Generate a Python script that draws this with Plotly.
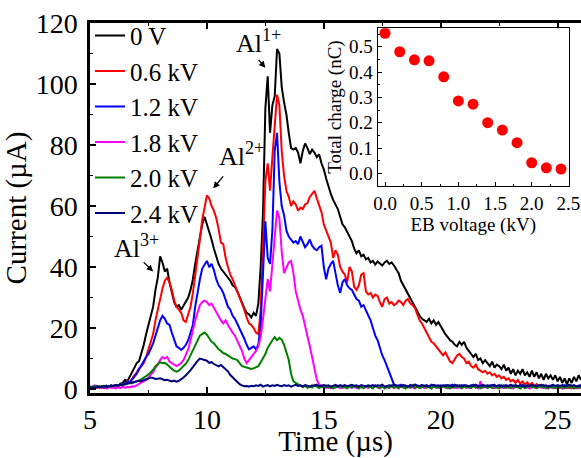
import plotly.graph_objects as go

# sample times (µs), 0.1 µs step from 5.0 to 26.0
time_us = [round(5.0 + 0.1 * i, 1) for i in range(211)]

labels = ["0 V", "0.6 kV", "1.2 kV", "1.8 kV", "2.0 kV", "2.4 kV"]
colors = ["#000000", "#ff0000", "#0000ff", "#ff00ff", "#008000", "#000080"]

cur_0V = [
    0.5, 0.8, 0.3, 1.0, 0.6, 0.9, 0.4, 1.1, 0.7, 1.2,
    1.0, 1.3, 0.9, 1.8, 2.0, 3.0, 2.6, 4.2, 5.5, 7.0,
    8.5, 9.2, 11.5, 14.5, 18.0, 21.0, 23.5, 27.0, 32.5, 36.5,
    43.5, 41.5, 38.5, 39.5, 35.0, 31.5, 28.5, 27.0, 27.5, 26.0,
    27.5, 28.5, 30.0, 32.5, 36.0, 41.0, 45.5, 50.5, 54.0, 56.5,
    54.0, 52.0, 49.0, 46.0, 43.5, 41.0, 39.5, 38.5, 37.5, 36.5,
    35.5, 34.0, 33.5, 32.0, 30.0, 28.0, 26.5, 25.0, 24.5, 23.5,
    25.0, 24.0, 28.0, 40.0, 58.0, 92.0, 102.5, 84.0, 93.0, 96.0,
    111.5, 110.0, 99.0, 94.0, 90.0, 84.0, 79.0, 78.5, 79.0, 77.5,
    74.0, 78.0, 80.5, 79.0, 77.0, 78.5, 77.5, 76.0, 77.0, 74.0,
    72.0, 69.0, 66.0, 64.0, 62.0, 60.5, 59.0, 56.5, 54.0, 53.0,
    51.5, 50.0, 48.5, 46.0, 44.5, 45.5, 43.5, 44.0, 42.5, 43.0,
    41.5, 42.0, 40.8, 41.8, 41.0, 40.5, 41.5, 42.0, 41.0, 41.5,
    40.5, 39.0, 38.0, 35.5, 34.0, 32.5, 31.5, 29.5, 28.5, 27.0,
    25.5, 24.0, 23.0, 22.5, 22.0, 23.0, 21.5, 22.5, 21.0, 22.0,
    20.5, 19.0, 18.0, 17.0, 16.0, 15.5, 14.5, 14.0, 15.5, 14.5,
    15.5, 13.5, 12.5, 11.5, 10.5, 11.5, 9.5, 10.0, 8.5, 9.5,
    8.5, 7.5, 9.0, 7.0, 8.0, 7.5, 6.5, 8.0, 6.0, 7.0,
    5.0, 6.5, 4.5, 6.0, 5.0, 6.5, 4.5, 5.5, 4.0, 6.0,
    4.0, 5.5, 3.5, 5.0, 3.0, 5.0, 3.5, 4.5, 3.0, 4.5,
    2.5, 4.0, 2.0, 3.5, 1.5, 3.5, 2.0, 4.0, 2.5, 4.5,
    3.0,
]

cur_06kV = [
    0.3, 0.6, 0.2, 0.8, 0.4, 0.7, 0.3, 0.9, 0.5, 1.0,
    0.7, 1.2, 0.8, 1.5, 1.3, 2.0, 2.6, 2.3, 3.6, 4.5,
    5.5, 6.8, 7.5, 8.5, 10.5, 13.0, 15.0, 18.0, 22.5, 26.0,
    30.0, 33.0, 35.5, 36.5, 35.0, 32.5, 29.0, 27.0, 26.0, 25.0,
    22.5, 22.0, 24.5, 27.0, 31.5, 37.0, 42.0, 49.0, 55.5, 60.0,
    63.5, 62.5, 60.0, 58.5, 56.0, 52.5, 48.0, 47.5, 43.0, 40.0,
    37.5, 36.0, 34.0, 32.0, 30.5, 28.5, 26.0, 23.5, 21.5, 21.0,
    20.0, 18.5, 18.0, 26.0, 50.0, 68.0, 74.0, 65.0, 76.0, 85.0,
    96.5, 93.0, 78.0, 70.0, 65.0, 63.0, 60.0, 61.5, 60.5, 58.5,
    59.5, 59.0, 60.5, 61.0, 63.0, 64.0, 65.0, 62.5, 60.5, 58.0,
    54.0, 52.0, 49.5, 48.0, 43.0, 45.5, 44.0, 40.0, 38.5, 37.5,
    35.0, 40.0, 38.5, 33.5, 32.5, 34.0, 37.5, 38.0, 32.0, 31.0,
    31.5, 30.0, 31.0, 30.5, 28.5, 27.0, 29.5, 30.0, 28.0, 28.5,
    27.5, 28.0, 29.0, 28.5, 27.5, 29.0, 29.5, 28.0, 27.5, 26.5,
    24.5, 22.5, 21.5, 20.0, 18.5, 17.0, 15.5, 15.0, 14.0, 13.0,
    12.0, 11.0, 12.0, 10.5, 9.0, 8.5, 10.0, 11.0, 11.5, 10.5,
    10.0, 8.5, 9.0, 7.5, 7.0, 8.0, 6.5, 6.0, 5.5, 6.0,
    5.0, 5.5, 4.5, 5.0, 4.0, 4.5, 3.5, 4.0, 3.0, 3.5,
    2.5, 3.0, 2.0, 3.0, 1.8, 2.5, 1.5, 2.2, 1.2, 2.0,
    1.0, 1.6, 0.8, 1.4, 0.6, 0.9, 0.5, 0.8, 0.4, 0.7,
    0.3, 0.6, 0.2, 0.5, 0.3, 0.6, 0.2, 0.5, 0.3, 0.6,
    0.4,
]

cur_12kV = [
    0.4, 0.7, 0.3, 0.9, 0.5, 0.8, 0.4, 1.0, 0.6, 1.1,
    0.8, 1.3, 0.9, 1.6, 1.4, 2.0, 2.4, 2.2, 3.2, 4.0,
    5.0, 6.5, 8.0, 9.0, 10.5, 11.5, 13.0, 15.0, 17.5, 20.0,
    22.5, 24.0, 23.0, 21.5, 21.0, 18.5, 16.0, 14.0, 13.5, 12.8,
    13.5, 14.5, 16.0, 18.5, 21.0, 27.0, 32.0, 36.0, 39.5, 41.0,
    42.0, 40.0, 41.0, 39.0, 36.0, 34.0, 33.0, 31.5, 29.0, 27.0,
    26.0, 24.0, 23.0, 21.5, 19.5, 18.0, 16.5, 14.5, 13.0, 13.5,
    14.0, 13.0, 14.5, 21.0, 40.0, 55.0, 43.0, 41.0, 52.0, 78.0,
    84.0, 68.0, 60.0, 57.0, 52.0, 50.0, 49.0, 48.0, 48.5, 47.5,
    50.0, 48.5, 46.5, 47.5, 49.0, 47.0, 46.0, 45.5, 46.5, 47.0,
    40.0, 36.0, 39.5, 41.0, 42.0, 38.0, 34.0, 31.5, 35.0, 36.0,
    34.0, 33.0, 32.5, 31.0, 29.5, 29.0, 27.0, 27.5, 26.0, 24.0,
    22.5, 20.0, 17.5, 16.0, 13.5, 11.0, 9.5, 7.5, 5.5, 3.0,
    1.5, 1.2, 0.8, 1.4, 0.9, 1.1, 0.6, 1.3, 0.9, 1.5,
    0.8, 1.0, 1.3, 0.7, 1.2, 0.9, 1.4, 0.8, 1.1, 0.6,
    1.2, 0.9, 1.3, 0.8, 1.0, 1.4, 0.7, 1.1, 0.9, 1.3,
    0.8, 1.2, 0.6, 1.0, 1.4, 0.9, 1.1, 0.7, 1.3, 1.0,
    0.8, 1.2, 0.9, 1.4, 0.7, 1.0, 1.2, 0.8, 1.3, 0.9,
    1.1, 0.7, 1.2, 1.0, 0.8, 1.4, 0.9, 1.1, 0.6, 1.3,
    1.0, 0.8, 1.2, 0.9, 1.3, 0.7, 1.1, 1.0, 1.4, 0.8,
    1.2, 0.9, 1.0, 1.3, 0.7, 1.1, 0.9, 1.2, 0.8, 1.0,
    1.3,
]

cur_18kV = [
    1.0, 0.5, 1.2, 0.4, 0.9, 0.3, 0.8, 0.2, 0.7, 0.4,
    0.5, 0.2, 0.6, 0.3, 0.8, 0.4, 0.7, 0.5, 0.9, 0.8,
    1.2, 1.8, 2.2, 2.5, 3.0, 3.8, 4.5, 5.5, 7.0, 8.0,
    9.5, 10.5, 10.0, 10.5, 9.0, 8.5, 8.0, 7.5, 8.0, 8.5,
    9.5, 11.0, 13.0, 16.0, 19.5, 22.5, 25.0, 27.5, 28.5, 29.0,
    28.5, 27.5, 28.0, 26.5, 25.0, 24.0, 22.5, 21.5, 22.5, 21.0,
    19.5, 18.5, 17.5, 16.0, 14.5, 12.5, 10.0, 8.5, 9.5, 10.5,
    11.5, 12.5, 14.0, 17.0, 23.0, 29.0, 36.0, 32.0, 40.0, 50.0,
    58.5, 56.0, 45.0, 38.0, 40.0, 41.5, 42.0, 38.0, 32.0, 28.5,
    26.0, 24.0, 21.0, 17.5, 14.0, 10.5, 6.5, 3.0, 1.5, 1.0,
    0.6, 0.3, 0.9, 0.2, 0.7, 0.4, 1.1, 0.3, 0.8, 0.5,
    0.2, 0.9, 0.4, 0.7, 0.3, 1.0, 0.5, 0.2, 0.8, 0.4,
    0.7, 0.3, 1.2, 0.5, 0.2, 0.8, 0.4, 0.6, 0.3, 0.9,
    0.4, 0.7, 0.2, 1.0, 0.5, 0.3, 0.8, 0.4, 0.6, 0.2,
    0.9, 0.4, 0.7, 0.3, 1.1, 0.5, 0.2, 0.8, 0.4, 0.6,
    0.3, 0.9, 0.5, 0.2, 0.7, 0.4, 1.0, 0.3, 0.6, 0.2,
    0.8, 0.4, 0.6, 0.3, 1.0, 0.5, 0.2, 2.5, 0.4, 0.7,
    0.3, 0.9, 0.5, 0.2, 0.8, 0.4, 0.6, 0.3, 1.0, 0.4,
    0.7, 0.2, 0.9, 0.5, 0.3, 0.8, 0.4, 0.6, 0.2, 1.0,
    0.5, 0.3, 0.8, 0.4, 0.7, 0.2, 0.9, 0.5, 0.3, 0.6,
    0.4, 0.8, 0.2, 0.7, 0.5, 0.3, 0.9, 0.4, 0.6, 0.3,
    0.5,
]

cur_20kV = [
    0.8, 0.4, 1.0, 0.6, 0.9, 0.5, 1.1, 0.7, 1.0, 0.8,
    1.1, 0.9, 1.3, 1.2, 1.6, 1.4, 1.8, 2.0, 1.9, 2.3,
    2.5, 2.8, 3.2, 3.6, 4.2, 4.8, 5.5, 6.3, 7.5, 8.2,
    8.8, 8.5, 8.6, 8.0, 7.2, 6.6, 6.0, 5.7, 6.0, 6.8,
    7.5, 8.3, 9.5, 11.0, 13.0, 14.5, 16.0, 17.5, 18.0, 18.5,
    17.8, 16.5, 15.5, 15.0, 14.0, 13.0, 12.5, 11.8, 11.5, 11.0,
    10.5, 10.0, 9.8, 9.5, 8.5, 7.5, 7.3, 7.0, 6.8, 6.6,
    6.8, 7.2, 7.5, 8.8, 10.0, 11.5, 13.5, 15.0, 16.0, 17.0,
    16.0, 16.8, 16.2, 14.5, 12.0, 9.5, 5.0, 2.5, 2.0, 1.5,
    1.2, 0.6, 1.0, 0.4, 0.9, 0.5, 1.3, 0.7, 0.3, 0.8,
    0.5, 1.1, 0.4, 0.8, 0.2, 0.9, 0.6, 1.2, 0.4, 0.7,
    0.3, 0.9, 0.5, 1.1, 0.6, 0.2, 0.8, 0.4, 1.0, 0.5,
    0.7, 0.3, 1.2, 0.6, 0.4, 0.9, 0.2, 0.8, 0.5, 1.1,
    0.4, 0.7, 0.3, 1.0, 0.6, 0.2, 0.9, 0.5, 1.3, 0.4,
    0.8, 0.3, 0.6, 1.1, 0.4, 0.7, 0.2, 0.9, 0.5, 0.6,
    0.3, 1.0, 0.5, 0.8, 0.2, 0.7, 0.4, 1.2, 0.6, 0.3,
    0.9, 0.5, 0.7, 0.3, 1.1, 0.4, 0.8, 0.2, 0.6, 1.0,
    0.4, 0.7, 0.3, 0.9, 0.5, 0.2, 1.0, 0.6, 0.4, 0.8,
    0.3, 1.1, 0.5, 0.7, 0.2, 0.9, 0.4, 0.6, 1.2, 0.5,
    0.8, 0.3, 0.6, 1.0, 0.4, 0.7, 0.2, 0.9, 0.5, 0.3,
    1.0, 0.4, 0.7, 0.3, 0.8, 0.5, 1.1, 0.2, 0.6, 0.4,
    0.7,
]

cur_24kV = [
    0.3, 0.6, 0.4, 0.5, 0.7, 0.6, 0.9, 0.7, 1.0, 1.1,
    1.0, 1.3, 1.2, 1.5, 1.4, 1.7, 1.8, 2.0, 2.2, 2.3,
    2.5, 2.7, 2.6, 3.0, 3.2, 3.4, 3.8, 3.6, 3.3, 3.4,
    3.5, 3.2, 2.9, 3.0, 2.7, 2.5, 2.8, 2.4, 2.7, 3.2,
    3.8, 4.5, 5.2, 6.2, 7.2, 8.3, 9.2, 10.0, 9.8, 9.5,
    9.3, 8.6, 8.8, 8.2, 7.8, 7.4, 7.9, 7.2, 6.5, 5.8,
    4.6, 3.8, 3.0, 2.2, 1.6, 1.2, 0.9, 1.0, 0.8, 1.1,
    0.9, 1.2, 1.0, 1.4, 0.8, 1.1, 1.3, 0.9, 1.2, 1.0,
    1.4, 1.1, 0.9, 1.3, 1.0, 1.2, 0.8, 1.1, 1.4, 1.0,
    1.2, 0.9, 1.3, 1.1, 0.8, 1.2, 1.0, 1.4, 0.9, 1.1,
    1.3, 1.0, 1.2, 0.8, 1.1, 1.4, 0.9, 1.2, 1.0, 1.3,
    0.9, 1.1, 1.4, 1.0, 1.2, 0.8, 1.3, 1.1, 0.9, 1.2,
    1.0, 1.3, 0.9, 1.2, 1.1, 1.4, 0.8, 1.0, 1.2, 1.1,
    1.4, 1.0, 1.2, 0.9, 1.3, 1.1, 0.8, 1.2, 1.0, 1.4,
    1.1, 0.9, 1.3, 1.0, 1.2, 0.8, 1.1, 1.4, 1.0, 1.2,
    0.9, 1.2, 1.0, 1.3, 1.1, 0.8, 1.4, 1.0, 1.2, 0.9,
    1.3, 1.1, 0.9, 1.2, 1.0, 1.4, 0.8, 1.1, 1.3, 1.0,
    1.2, 0.9, 1.4, 1.1, 1.0, 1.3, 0.8, 1.2, 1.0, 1.1,
    1.4, 1.0, 1.2, 0.9, 1.3, 1.1, 0.8, 1.2, 1.0, 1.3,
    1.1, 0.9, 1.2, 1.4, 1.0, 1.2, 0.8, 1.1, 1.3, 1.0,
    1.2, 1.0, 1.3, 0.9, 1.1, 1.4, 1.0, 1.2, 0.8, 1.1,
    1.0,
]

series = [cur_0V, cur_06kV, cur_12kV, cur_18kV, cur_20kV, cur_24kV]

# inset data
eb_voltage = [0.0, 0.2, 0.4, 0.6, 0.8, 1.0, 1.2, 1.4, 1.6, 1.8, 2.0, 2.2, 2.4]
total_charge = [0.553, 0.480, 0.448, 0.444, 0.381, 0.286, 0.273, 0.200, 0.171, 0.121, 0.042, 0.022, 0.017]

FONT = "Liberation Serif"

fig = go.Figure()
for name, col, vals in zip(labels, colors, series):
    fig.add_trace(go.Scatter(
        x=time_us[:len(vals)], y=vals, mode="lines", name=name,
        line=dict(color=col, width=2), xaxis="x", yaxis="y",
    ))

fig.add_trace(go.Scatter(
    x=eb_voltage, y=total_charge, mode="markers", showlegend=False,
    marker=dict(color="#ff0000", size=11), xaxis="x2", yaxis="y2",
))

axis_common = dict(showgrid=False, zeroline=False, showline=True, linecolor="black",
                   ticks="inside", tickcolor="black")

fig.update_layout(
    width=581, height=458,
    margin=dict(l=90, r=0, t=23, b=65, autoexpand=False),
    paper_bgcolor="white", plot_bgcolor="white",
    font=dict(family=FONT, color="black", size=26),
    xaxis=dict(
        **axis_common, domain=[0, 1], range=[5, 26.0], dtick=5, tick0=5,
        linewidth=2.5, mirror="allticks", ticklen=6, tickwidth=1.5,
        minor=dict(ticks="inside", dtick=2.5, ticklen=3, tickwidth=1.2, tickcolor="black"),
        tickfont=dict(size=28, family=FONT),
        title=dict(text="Time (µs)", font=dict(size=29, family=FONT), standoff=2),
    ),
    yaxis=dict(
        **axis_common, domain=[0, 1], range=[-1.3, 120], dtick=20, tick0=0,
        linewidth=2.5, mirror=False, ticklen=6, tickwidth=1.5,
        minor=dict(ticks="inside", dtick=10, ticklen=3, tickwidth=1.2, tickcolor="black"),
        tickfont=dict(size=28, family=FONT), ticklabelstandoff=4,
        title=dict(text="Current (µA)", font=dict(size=29, family=FONT), standoff=2),
    ),
    xaxis2=dict(
        **axis_common, domain=[0.586, 0.975], anchor="y2", range=[-0.1, 2.505],
        dtick=0.5, tick0=0, tickformat=".1f", linewidth=1.3, mirror=True,
        ticklen=4, tickwidth=1,
        minor=dict(ticks="inside", dtick=0.25, ticklen=2, tickwidth=1, tickcolor="black"),
        tickfont=dict(size=19, family=FONT),
        title=dict(text="EB voltage (kV)", font=dict(size=19, family=FONT), standoff=2),
    ),
    yaxis2=dict(
        **axis_common, domain=[0.560, 0.986], anchor="x2", range=[-0.049, 0.573],
        dtick=0.1, tick0=0, tickformat=".1f", linewidth=1.3, mirror=True,
        ticklen=4, tickwidth=1,
        minor=dict(ticks="inside", dtick=0.05, ticklen=2, tickwidth=1, tickcolor="black"),
        tickfont=dict(size=19, family=FONT),
        title=dict(text="Total charge (nC)", font=dict(size=19, family=FONT), standoff=2),
    ),
    legend=dict(x=0.0, y=1.028, xanchor="left", yanchor="top", bgcolor="rgba(0,0,0,0)",
                font=dict(size=25, family=FONT), itemwidth=30, tracegroupgap=0),
)

# ion labels
ann_font = dict(size=26, family=FONT, color="black")
ion_labels = [("Al<sup>1+</sup>", 11.22, 108.2), ("Al<sup>2+</sup>", 10.49, 71.3), ("Al<sup>3+</sup>", 6.0, 41.0)]
for txt, xx, yy in ion_labels:
    fig.add_annotation(x=xx, y=yy, xref="x", yref="y", text=txt, showarrow=False,
                       xanchor="left", yanchor="bottom", font=ann_font, borderpad=0)

arrows = [((12.16, 108.4), (12.50, 105.3)), ((10.75, 70.2), (10.27, 65.8)), ((7.23, 42.1), (7.70, 38.5))]
for (tx, ty), (hx, hy) in arrows:
    fig.add_annotation(x=hx, y=hy, ax=tx, ay=ty, xref="x", yref="y", axref="x", ayref="y",
                       text="", showarrow=True, arrowhead=2, arrowsize=1, arrowwidth=1.3,
                       arrowcolor="black")

fig.write_html("out.html", config={"displayModeBar": False},
               post_script="document.body.style.margin='0';document.body.style.overflow='hidden';")
